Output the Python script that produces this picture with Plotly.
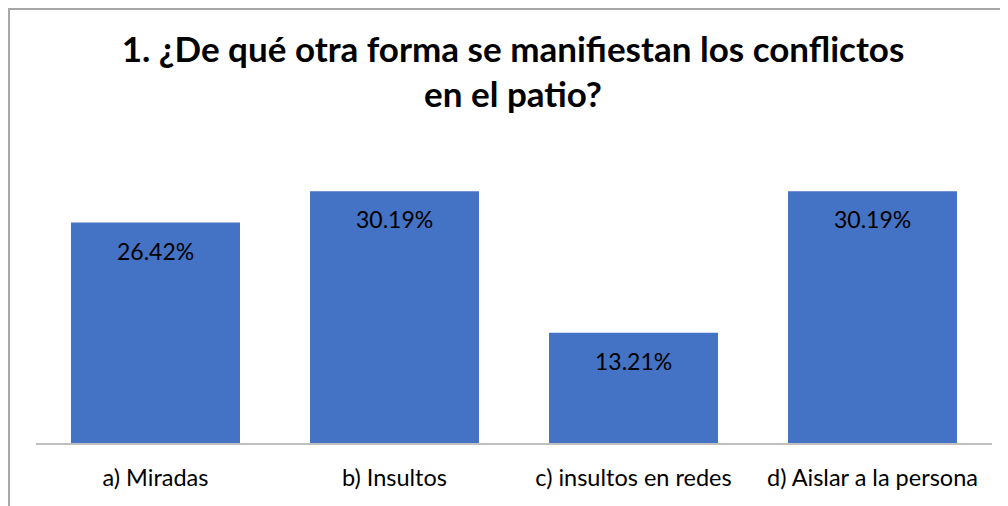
import plotly.graph_objects as go

categories = ["a) Miradas", "b) Insultos", "c) insultos en redes", "d) Aislar a la persona"]
values = [26.42, 30.19, 13.21, 30.19]
labels = ["26.42%", "30.19%", "13.21%", "30.19%"]

FONT = "Lato, Calibri, Carlito, sans-serif"

fig = go.Figure(go.Bar(
    x=categories, y=values,
    marker=dict(color="#4472C4", line=dict(width=0)),
    hoverinfo="skip",
))

for c, v, t in zip(categories, values, labels):
    fig.add_annotation(x=c, y=v, text=t, showarrow=False, yanchor="top", yshift=-12,
                       font=dict(family=FONT, size=23, color="#000000"))

fig.add_shape(type="rect", xref="paper", yref="paper",
              x0=-0.0282, x1=1.2, y0=-0.5, y1=1.486,
              line=dict(color="#a6a6a6", width=2), fillcolor="rgba(0,0,0,0)", layer="below")

fig.update_layout(
    width=1008, height=506,
    paper_bgcolor="white", plot_bgcolor="white",
    margin=dict(l=28, r=24, t=143, b=71),
    bargap=0.293,
    showlegend=False,
    title=dict(text="<b>1. ¿De qué otra forma se manifiestan los conflictos<br>en el patio?</b>",
               x=0.501, xanchor="center", y=0.894, yanchor="top",
               font=dict(family=FONT, size=35, color="#000000")),
    xaxis=dict(showline=True, linecolor="#bfbfbf", linewidth=2, ticks="",
               ticklabelstandoff=13,
               tickfont=dict(family=FONT, size=23.5, color="#000000"), showgrid=False),
    yaxis=dict(range=[0, 35], visible=False, showgrid=False),
)

fig.write_html("out.html")
